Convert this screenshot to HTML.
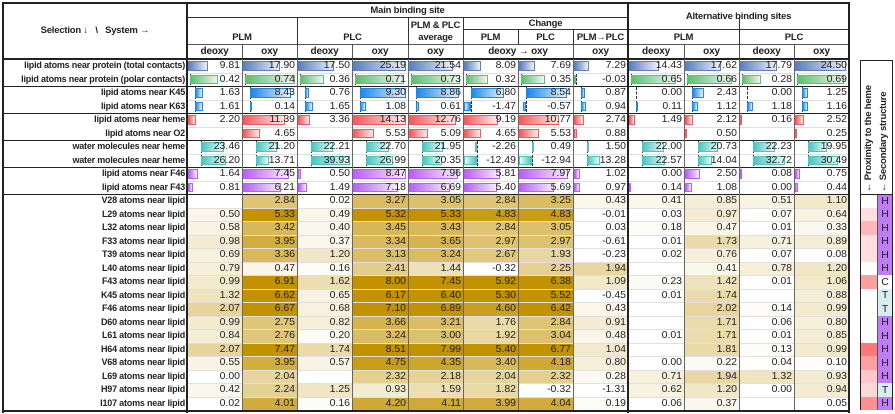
<!DOCTYPE html>
<html><head><meta charset="utf-8">
<style>
body{margin:0;background:#fff;width:895px;height:414px;overflow:hidden;font-family:"Liberation Sans",Arial,sans-serif;}
#t{position:absolute;left:0;top:0;width:895px;height:414px;}
.c{position:absolute;box-sizing:border-box;font-size:10.5px;color:#222;white-space:nowrap;}
.h{font-weight:bold;font-size:9.5px;text-align:center;display:flex;align-items:center;justify-content:center;line-height:12px;letter-spacing:-0.2px;}
.n{text-align:right;padding-right:2px;line-height:13.5px;}
.lab{text-align:right;padding-right:2px;font-weight:bold;font-size:9px;line-height:13.5px;letter-spacing:-0.2px;}
.ln{position:absolute;}
</style></head><body>
<div id="t"></div>
<script>
const colX=[187,242,297,352,408,463,518,573,628,684,739,794,849];
const rowLabels=["lipid atoms near protein (total contacts)","lipid atoms near protein (polar contacts)","lipid atoms near K45","lipid atoms near K63","lipid atoms near heme","lipid atoms near O2","water molecules near heme","water molecules near heme","lipid atoms near F46","lipid atoms near F43","V28 atoms near lipid","L29 atoms near lipid","L32 atoms near lipid","F33 atoms near lipid","T39 atoms near lipid","L40 atoms near lipid","F43 atoms near lipid","K45 atoms near lipid","F46 atoms near lipid","D60 atoms near lipid","L61 atoms near lipid","H64 atoms near lipid","V68 atoms near lipid","L69 atoms near lipid","H97 atoms near lipid","I107 atoms near lipid"];
const barRows=[
[9.81,17.90,17.50,25.19,21.54,8.09,7.69,7.29,14.43,17.62,17.79,24.50],
[0.42,0.74,0.36,0.71,0.73,0.32,0.35,-0.03,0.65,0.66,0.28,0.69],
[1.63,8.43,0.76,9.30,8.86,6.80,8.54,0.87,0.00,2.43,0.00,1.25],
[1.61,0.14,1.65,1.08,0.61,-1.47,-0.57,0.94,0.11,1.12,1.18,1.16],
[2.20,11.39,3.36,14.13,12.76,9.19,10.77,2.74,1.49,2.12,0.16,2.52],
[null,4.65,null,5.53,5.09,4.65,5.53,0.88,null,0.50,null,0.25],
[23.46,21.20,22.21,22.70,21.95,-2.26,0.49,1.50,22.00,20.73,22.23,19.95],
[26.20,13.71,39.93,26.99,20.35,-12.49,-12.94,13.28,22.57,14.04,32.72,30.49],
[1.64,7.45,0.50,8.47,7.96,5.81,7.97,1.02,0.00,2.50,0.08,0.75],
[0.81,6.21,1.49,7.18,6.69,5.40,5.69,0.97,0.14,1.08,0.00,0.44]];
const barColors=["#5b7fc0","#5cc070","#1e88e8","#1e88e8","#f25a5e","#f25a5e","#4dc4bf","#4dc4bf","#b860f5","#b860f5"];
const barGroups=[[0],[1],[2,3],[4,5],[6,7],[8,9]];
const heatRows=[
[null,2.84,0.02,3.27,3.05,2.84,3.25,0.43,0.41,0.85,0.51,1.10],
[0.50,5.33,0.49,5.32,5.33,4.83,4.83,-0.01,0.03,0.97,0.07,0.64],
[0.58,3.42,0.40,3.45,3.43,2.84,3.05,0.03,0.18,0.47,0.01,0.33],
[0.98,3.95,0.37,3.34,3.65,2.97,2.97,-0.61,0.01,1.73,0.71,0.89],
[0.69,3.36,1.20,3.13,3.24,2.67,1.93,-0.23,0.02,0.76,0.07,0.08],
[0.79,0.47,0.16,2.41,1.44,-0.32,2.25,1.94,null,0.41,0.78,1.20],
[0.99,6.91,1.62,8.00,7.45,5.92,6.38,1.09,0.23,1.42,0.01,1.06],
[1.32,6.62,0.65,6.17,6.40,5.30,5.52,-0.45,0.01,1.74,null,0.88],
[2.07,6.67,0.68,7.10,6.89,4.60,6.42,0.43,null,2.02,0.14,0.99],
[0.99,2.75,0.82,3.66,3.21,1.76,2.84,0.91,null,1.71,0.06,0.80],
[0.84,2.76,0.20,3.24,3.00,1.92,3.04,0.48,0.01,1.71,0.01,0.85],
[2.07,7.47,1.74,8.51,7.99,5.40,6.77,1.04,null,1.81,0.13,0.99],
[0.55,3.95,0.57,4.75,4.35,3.40,4.18,0.80,0.00,0.22,0.04,0.10],
[0.00,2.04,null,2.32,2.18,2.04,2.32,0.28,0.71,1.94,1.32,0.93],
[0.42,2.24,1.25,0.93,1.59,1.82,-0.32,-1.31,0.62,1.20,0.00,0.94],
[0.02,4.01,0.16,4.20,4.11,3.99,4.04,0.19,0.06,0.37,null,0.05]];
const secStruct=["H","H","H","H","H","H","C","T","T","H","H","H","H","H","T","H"];
const proximity=[0,0.2,0.45,0.2,0.2,0,0.6,0,0,0,0,0.85,0.6,0.35,0.25,0.7];

const T=document.getElementById('t');
const Y0=59,RH=13.5;
function box(x,y,w,h,cls,txt,name,style){
  const d=document.createElement('div');
  d.className='c '+(cls||'');
  d.style.left=x+'px';d.style.top=y+'px';d.style.width=w+'px';d.style.height=h+'px';
  if(style)d.style.cssText+=style;
  if(txt!==undefined)d.innerHTML=txt;
  
  
  T.appendChild(d);return d;
}
function line(x,y,w,h,col,name){
  const d=document.createElement('div');d.className='ln';
  d.style.cssText=`left:${x}px;top:${y}px;width:${w}px;height:${h}px;background:${col};`;
  
  
  T.appendChild(d);
}
box(3,3,184,56,'h','Selection&nbsp;&#8595;&nbsp;&nbsp;&nbsp;\\&nbsp;&nbsp;&nbsp;System&nbsp;&#8594;','header-selection-system');
box(187,3,441,15,'h','Main binding site','header-main-site');
box(628,3,221,27,'h','Alternative binding sites','header-alt-sites');
box(187,18,110,27,'h','<span style="margin-top:12px">PLM</span>','header-plm');
box(297,18,111,27,'h','<span style="margin-top:12px">PLC</span>','header-plc');
box(408,18,55,27,'h','PLM &amp; PLC<br>average','header-average');
box(463,18,165,12,'h','Change','header-change');
box(463,30,55,15,'h','PLM','header-change-plm');
box(518,30,55,15,'h','PLC','header-change-plc');
box(573,30,55,15,'h','PLM&#8594;PLC','header-plm-to-plc');
box(628,30,111,15,'h','PLM','header-alt-plm');
box(739,30,110,15,'h','PLC','header-alt-plc');
const sub=[[187,55,'deoxy'],[242,55,'oxy'],[297,55,'deoxy'],[352,56,'oxy'],[408,55,'oxy'],[463,110,'deoxy &#8594; oxy'],[573,55,'oxy'],[628,56,'deoxy'],[684,55,'oxy'],[739,55,'deoxy'],[794,55,'oxy']];
sub.forEach((s,i)=>{const b=box(s[0],45,s[1],14,'h',s[2],'subheader-'+i);b.style.fontSize='10px';});
line(187,17,441,1,'#333');line(628,29,221,1,'#333');line(463,29,165,1,'#333');
line(187,44,662,1,'#555');
[297,408,463,628,739].forEach(x=>line(x,18,1,27,'#333'));
[518,573].forEach(x=>line(x,30,1,15,'#333'));
[242,297,352,408,463,573,628,684,739,794].forEach(x=>line(x,45,1,14,'#555'));
rowLabels.forEach((l,i)=>box(3,Y0+i*RH,184,RH,'lab',l,'row-label-'+i));
function mix(c,t){const r=parseInt(c.slice(1,3),16),g=parseInt(c.slice(3,5),16),b=parseInt(c.slice(5,7),16);
  return `rgb(${Math.round(255+(r-255)*t)},${Math.round(255+(g-255)*t)},${Math.round(255+(b-255)*t)})`;}
barGroups.forEach(gr=>{
  let mn=0,mx=0;gr.forEach(r=>barRows[r].forEach(v=>{if(v!==null){mn=Math.min(mn,v);mx=Math.max(mx,v);}}));
  const rng=mx-mn;
  gr.forEach(r=>{
    const y=Y0+r*RH;const col=barColors[r];
    barRows[r].forEach((v,c)=>{
      const x=colX[c],w=colX[c+1]-x;
      if(v===null)return;
      const iw=w-3,ax=x+1+(-mn/rng)*iw;
      if(mn<0){const a=document.createElement('div');a.className='ln';
        a.style.cssText=`left:${ax}px;top:${y+1}px;width:0;height:${RH-2}px;border-left:1px dashed #333;`;
        
        T.appendChild(a);}
      const bw=Math.abs(v)/rng*iw;
      if(bw>0.3){const b=document.createElement('div');b.className='ln';
        const left=v>=0?ax:ax-bw;
        const dir=v>=0?'to right':'to left';
        b.style.cssText=`left:${left}px;top:${y+2}px;width:${bw}px;height:${RH-4}px;box-sizing:border-box;border:1px solid ${col};background:linear-gradient(${dir},${col},${mix(col,0.12)});`;
        
        T.appendChild(b);}
      box(x,y,w,RH,'n',v.toFixed(2),'value-cell');
    });
  });
});
heatRows.forEach((row,i)=>{
  const r=10+i,y=Y0+r*RH;
  row.forEach((v,c)=>{
    const x=colX[c],w=colX[c+1]-x;
    let bg='#fff';
    if(v!==null&&v>0){const t=Math.min(v/5.3,1);bg=`rgb(${Math.round(255-(255-194)*t)},${Math.round(255-(255-146)*t)},${Math.round(255-255*t)})`;}
    box(x,y,w,RH,'n',v===null?'':v.toFixed(2),'heat-cell','background:'+bg+';');
  });
});
for(let r=1;r<26;r++){
  const y=Y0+r*RH;
  if([2,4,6,8,10].includes(r))line(3,y-0.5,846,1.5,'#222','group-separator');
  else line(187,y,662,1,'#e0e0e0','row-line');
}
line(3,Y0-1,846,1.5,'#222','header-bottom-line');
[242,297,352,408,463,518,573,684,739,794].forEach(x=>line(x,Y0,1,351,'#666','column-line'));
line(3,2,846,1.5,'#222','border');line(3,Y0+26*RH,846,2,'#222','border');
line(2,2,1.5,411,'#222','border');line(186,2,1.5,411,'#222','border');
line(627,2,1.5,411,'#222','border');line(848,2,1.5,411,'#222','border');
const P=document.createElement('div');P.style.cssText='position:absolute;left:860px;top:60px;width:33px;height:350px;border:1.5px solid #222;box-sizing:border-box;';

T.appendChild(P);
function vt(x,txt,name){const d=document.createElement('div');
  d.style.cssText=`position:absolute;left:${x}px;top:192px;transform-origin:0 0;transform:rotate(-90deg);font-size:9.5px;font-weight:bold;white-space:nowrap;color:#222;letter-spacing:-0.2px;`;
  d.innerHTML=txt;T.appendChild(d);}
vt(863,'&#8592; Proximity to the heme','proximity-title');
vt(878,'&#8592; Secondary structure','secondary-structure-title');
secStruct.forEach((s,i)=>{
  const y=Y0+(10+i)*RH;
  const p=proximity[i];
  box(861,y,16,RH,'','','proximity-cell','background:rgb(255,'+Math.round(255-160*p)+','+Math.round(255-155*p)+');');
  const bg=s==='H'?'#c07cf5':s==='T'?'#d8eeee':'#fff';
  box(877,y,15,RH,'h',s,'secondary-structure-cell','background:'+bg+';font-weight:normal;font-size:10.5px;border-left:1px solid #555;');
});
line(861,194,31,1,'#222','panel-line');
</script>
</body></html>
